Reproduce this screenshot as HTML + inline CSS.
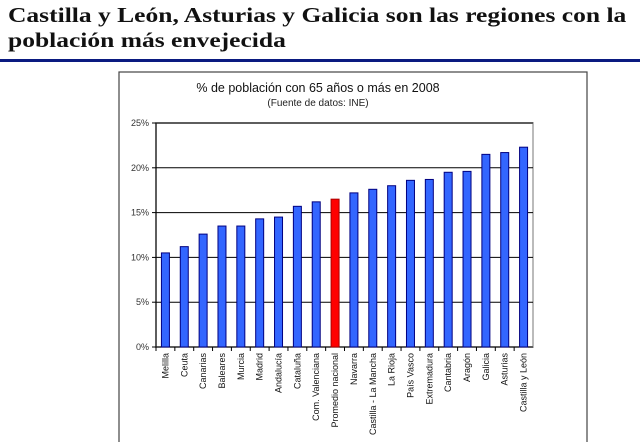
<!DOCTYPE html>
<html><head><meta charset="utf-8"><style>
body{margin:0;width:640px;height:442px;overflow:hidden;background:#fff;font-family:"Liberation Sans",sans-serif}
#hdr{position:absolute;left:8px;top:3px;font-family:"Liberation Serif",serif;font-weight:bold;font-size:21px;line-height:25px;color:#111;transform:scaleX(1.215);transform-origin:0 0;white-space:nowrap}
#rule{position:absolute;left:0;top:59px;width:640px;height:3px;background:#0a1a80}
svg{position:absolute;left:0;top:0}
</style></head><body>
<div id="hdr">Castilla y León, Asturias y Galicia son las regiones con la<br>población más envejecida</div>
<div id="rule"></div>
<svg id="chart" width="640" height="442">
<rect x="119" y="72" width="468" height="380" fill="#fff" stroke="#444" stroke-width="1.2"/>
<text x="318" y="92" text-anchor="middle" font-size="12.5" fill="#111">% de población con 65 años o más en 2008</text>
<text x="318" y="106" text-anchor="middle" font-size="10" fill="#222">(Fuente de datos: INE)</text>
</svg>
<script>
const categories=["Melilla","Ceuta","Canarias","Baleares","Murcia","Madrid","Andalucía","Cataluña","Com. Valenciana","Promedio nacional","Navarra","Castilla - La Mancha","La Rioja","País Vasco","Extremadura","Cantabria","Aragón","Galicia","Asturias","Castilla y León"];
const values=[10.5,11.2,12.6,13.5,13.5,14.3,14.5,15.7,16.2,16.5,17.2,17.6,18.0,18.6,18.7,19.5,19.6,21.5,21.7,22.3];
const ticks=[0,5,10,15,20,25];
const highlight="Promedio nacional";
const svg=document.getElementById('chart');
const NS="http://www.w3.org/2000/svg";
const L=156,R=533,T=123,B=347,MAX=25;
const y=v=>B-(v/MAX)*(B-T);
const bw=(R-L)/categories.length;
const x=i=>L+bw*(i+0.5);
function mk(t,a){const e=document.createElementNS(NS,t);for(const k in a)e.setAttribute(k,a[k]);svg.appendChild(e);return e;}
const pa=mk('rect',{x:L,y:T,width:R-L,height:B-T,fill:'#fff',stroke:'#bbb','stroke-width':2});


ticks.forEach(t=>{
 const g=mk('line',{x1:L,x2:R,y1:y(t),y2:y(t),stroke:'#000','stroke-width':1});
 
 
 const tk=mk('line',{x1:L-4,x2:L,y1:y(t),y2:y(t),stroke:'#000'});
 
 
 const lb=mk('text',{x:L-7,y:y(t)+3,'text-anchor':'end','font-size':9,fill:'#333'});
 lb.textContent=t+'%';
 
 
});
mk('line',{x1:L,x2:L,y1:T,y2:B,stroke:'#000'});
categories.forEach((c,i)=>{
 const v=values[i];
 const b=mk('rect',{x:x(i)-4,y:y(v),width:8,height:B-y(v),fill:c===highlight?'#ff0000':'#3366ff',stroke:c===highlight?'#aa0000':'#000080','stroke-width':1});
 
 
 const tk=mk('line',{x1:L+bw*i,x2:L+bw*i,y1:B,y2:B+4,stroke:'#000'});
 
 
 const lb=mk('text',{transform:`translate(${x(i)+3},${B+6}) rotate(-90)`,'text-anchor':'end','font-size':9,fill:'#111'});
 lb.textContent=c;
 
 
});
</script>
</body></html>
